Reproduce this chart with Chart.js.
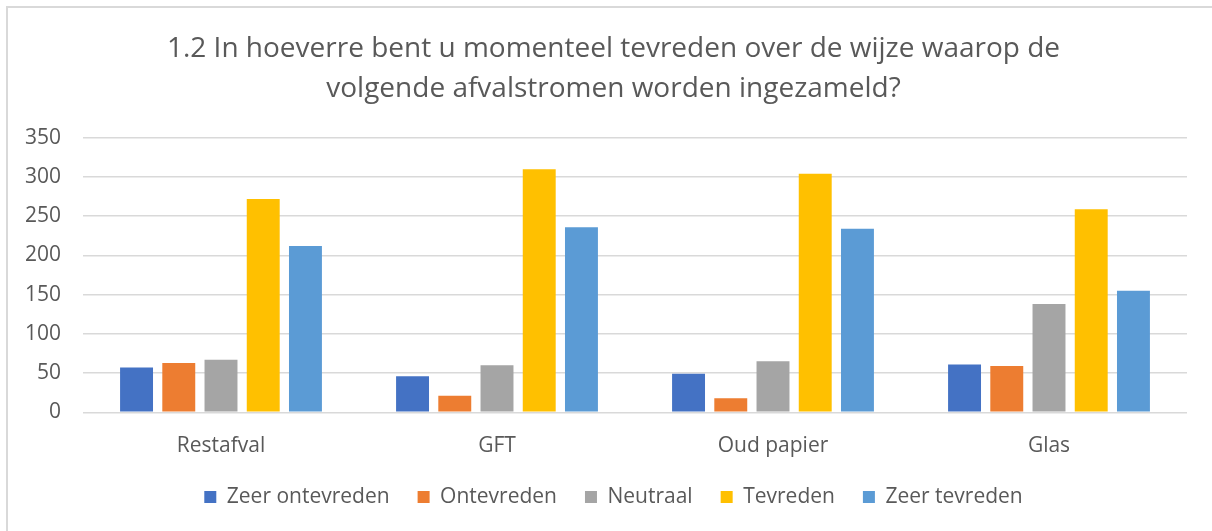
<!DOCTYPE html>
<html>
<head>
<meta charset="utf-8">
<script src="https://cdn.jsdelivr.net/npm/chart.js@4"></script>
<style>
  html, body { margin: 0; padding: 0; background: #fff; }
  #wrap { position: absolute; left: 0; top: 0; width: 1212px; height: 531px; }
  #frame { position: absolute; left: 6px; top: 6px; width: 1220px; height: 540px;
           border-left: 2px solid #d9d9d9; border-top: 2px solid #d9d9d9; pointer-events: none; }
</style>
</head>
<body>
<div id="wrap"><canvas id="chart" width="1212" height="531"></canvas></div>
<div id="frame"></div>
<script>
const categories = ['Restafval', 'GFT', 'Oud papier', 'Glas'];
const seriesNames = ['Zeer ontevreden', 'Ontevreden', 'Neutraal', 'Tevreden', 'Zeer tevreden'];
const zeerOntevreden = [57, 46, 49, 61];
const ontevreden = [63, 21, 18, 59];
const neutraal = [67, 60, 65, 138];
const tevreden = [272, 310, 304, 259];
const zeerTevreden = [212, 236, 234, 155];
const colors = ['#4472C4', '#ED7D31', '#A5A5A5', '#FFC000', '#5B9BD5'];
const titleLines = ['1.2 In hoeverre bent u momenteel tevreden over de wijze waarop de',
                    'volgende afvalstromen worden ingezameld?'];

const FONT = "'Open Sans', sans-serif";
const TEXT = '#595959';

const values = [zeerOntevreden, ontevreden, neutraal, tevreden, zeerTevreden];

new Chart(document.getElementById('chart'), {
  type: 'bar',
  data: {
    labels: categories,
    datasets: seriesNames.map((name, i) => ({
      label: name,
      data: values[i],
      backgroundColor: colors[i],
      borderWidth: 0,
      barPercentage: 0.78,
      categoryPercentage: 0.765,
    })),
  },
  options: {
    responsive: false,
    animation: false,
    layout: { padding: { left: 40, right: 25, top: 0, bottom: 13.5 } },
    plugins: {
      title: {
        display: true,
        text: titleLines,
        color: TEXT,
        font: { family: FONT, size: 28, weight: 'normal', lineHeight: 1.43 },
        padding: { top: 29, bottom: 28.7 },
      },
      legend: {
        position: 'bottom',
        labels: {
          color: TEXT,
          font: { family: FONT, size: 21 },
          boxWidth: 12,
          boxHeight: 12,
          padding: 28,
        },
      },
      tooltip: { enabled: false },
    },
    scales: {
      x: {
        grid: { display: false },
        border: { display: false },
        ticks: { color: TEXT, font: { family: FONT, size: 21 }, padding: 13 },
        afterFit: (scale) => { scale.height = 46.2; },
      },
      y: {
        min: 0,
        max: 350,
        // mirrored + far so the labels sit left of the axis without being clipped
        ticks: { stepSize: 50, color: TEXT, font: { family: FONT, size: 21 },
                 mirror: true, crossAlign: 'far', padding: -58 },
        grid: { color: '#d9d9d9', lineWidth: 1.5, drawTicks: false },
        border: { display: false },
        afterFit: (scale) => { scale.width = 43; },
      },
    },
  },
});
</script>
</body>
</html>
